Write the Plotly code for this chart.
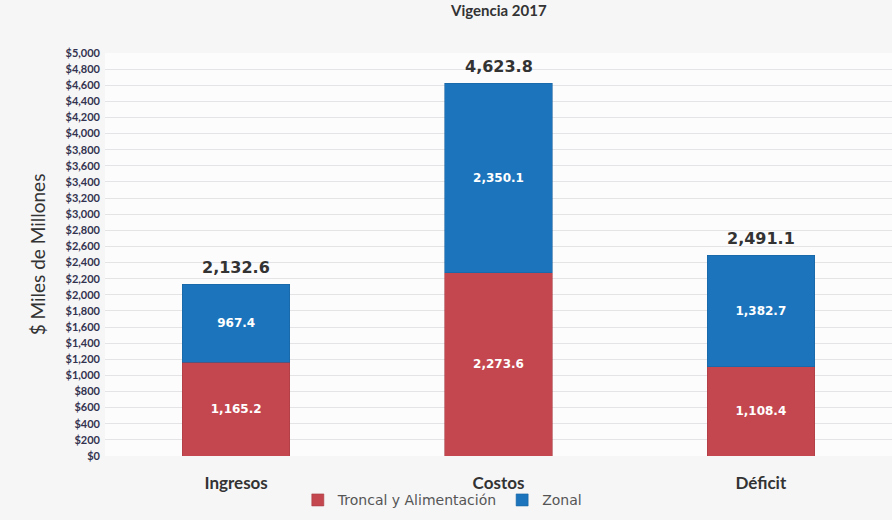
import plotly.graph_objects as go

# Presupuesto por componente (miles de millones de pesos)
categorias = ["Ingresos", "Costos", "Déficit"]
troncal = [1165.2, 2273.6, 1108.4]
zonal = [967.4, 2350.1, 1382.7]
totales = [2132.6, 4623.8, 2491.1]

color_troncal = "#c4474f"
color_zonal = "#1c75bc"


def fmt(v):
    return f"{v:,.1f}"


fig = go.Figure()

fig.add_trace(go.Bar(
    name="Troncal y Alimentación",
    x=categorias,
    y=troncal,
    marker=dict(color=color_troncal, line=dict(color="#a83a42", width=0.6)),
    text=[fmt(v) for v in troncal],
    textposition="inside",
    insidetextanchor="middle",
    textfont=dict(family="DejaVu Sans", size=12, color="white", weight="bold"),
))

fig.add_trace(go.Bar(
    name="Zonal",
    x=categorias,
    y=zonal,
    marker=dict(color=color_zonal, line=dict(color="#17639f", width=0.6)),
    text=[fmt(v) for v in zonal],
    textposition="inside",
    insidetextanchor="middle",
    textfont=dict(family="DejaVu Sans", size=12, color="white", weight="bold"),
))

# Totales encima de cada barra apilada
for cat, tot in zip(categorias, totales):
    fig.add_annotation(
        x=cat, y=tot, xref="x", yref="y",
        text=f"<b>{fmt(tot)}</b>",
        showarrow=False, yanchor="bottom", yshift=5,
        font=dict(family="DejaVu Sans", size=16, color="#333333"),
    )

# Título superior
fig.add_annotation(
    x=0.5, y=1, xref="paper", yref="paper",
    text="<b>Vigencia 2017</b>",
    showarrow=False, yanchor="bottom", yshift=32,
    font=dict(family="Lato", size=15, color="#333333"),
)

fig.update_layout(
    width=892,
    height=520,
    barmode="stack",
    bargap=0.59,
    paper_bgcolor="#f6f6f7",
    plot_bgcolor="#fcfcfd",
    margin=dict(l=105, r=0, t=53, b=64),
    showlegend=True,
    legend=dict(
        orientation="h",
        traceorder="normal",
        x=0.245, xanchor="left",
        y=-0.11, yanchor="middle",
        font=dict(family="DejaVu Sans", size=14, color="#555555"),
        bgcolor="rgba(0,0,0,0)",
        itemwidth=30,
    ),
    xaxis=dict(
        showgrid=False,
        showline=False,
        ticks="",
        ticklabelstandoff=15,
        tickfont=dict(family="Lato", size=17, color="#333333", weight="bold"),
    ),
    yaxis=dict(
        range=[0, 5000],
        dtick=200,
        tickprefix="$",
        tickformat=",d",
        showgrid=True,
        gridcolor="#e4e4e6",
        gridwidth=1,
        zeroline=False,
        showline=False,
        ticks="",
        ticklabelstandoff=4,
        tickfont=dict(family="Lato", size=11, color="#33334f", weight="bold"),
        title=dict(
            text="$ Miles de Millones",
            font=dict(family="Lato", size=19, color="#333333"),
            standoff=14,
        ),
    ),
)

fig.write_html("out.html")
